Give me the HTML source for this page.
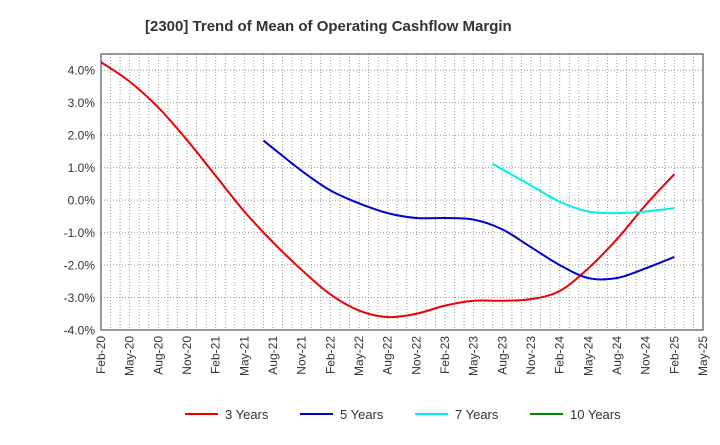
<!DOCTYPE html>
<html><head><meta charset="utf-8"><style>
body{margin:0;background:#fff;font-family:"Liberation Sans",sans-serif;}
</style></head><body>
<svg id="c" width="720" height="440" xmlns="http://www.w3.org/2000/svg">
<text x="145" y="31" font-size="15" font-weight="bold" fill="#333">[2300]  Trend of Mean of Operating Cashflow Margin</text>
<g id="grid"></g><g id="axes"></g><g id="series"></g><g id="legend"></g>
</svg>
<script>
const categories=["Feb-20","May-20","Aug-20","Nov-20","Feb-21","May-21","Aug-21","Nov-21","Feb-22","May-22","Aug-22","Nov-22","Feb-23","May-23","Aug-23","Nov-23","Feb-24","May-24","Aug-24","Nov-24","Feb-25","May-25"];
const yTicks=[4,3,2,1,0,-1,-2,-3,-4];
const yTickLabels=["4.0%","3.0%","2.0%","1.0%","0.0%","-1.0%","-2.0%","-3.0%","-4.0%"];
const s3=[4.25,3.65,2.85,1.85,0.75,-0.35,-1.3,-2.15,-2.9,-3.4,-3.6,-3.5,-3.25,-3.1,-3.1,-3.05,-2.8,-2.1,-1.2,-0.15,0.8];
const s5=[null,null,null,null,null,null,1.6,0.9,0.3,-0.1,-0.4,-0.55,-0.55,-0.6,-0.9,-1.45,-2.0,-2.4,-2.4,-2.1,-1.75];
const s7=[null,null,null,null,null,null,null,null,null,null,null,null,null,null,0.95,0.45,-0.05,-0.35,-0.4,-0.35,-0.25];
const s10=[];
const names=["3 Years","5 Years","7 Years","10 Years"];
const colors=["#e00","#00c","#0ee","#080"];
const L=101,R=703,T=54,B=330,yMin=-4,yMax=4.5;
const NS="http://www.w3.org/2000/svg";
const xq=i=>L+(R-L)*i/(categories.length-1);
const y=v=>B-(v-yMin)/(yMax-yMin)*(B-T);
function mk(tag,attrs,parent){const e=document.createElementNS(NS,tag);for(const k in attrs)e.setAttribute(k,attrs[k]);parent.appendChild(e);return e;}
const g=document.getElementById('grid'),ax=document.getElementById('axes'),sg=document.getElementById('series'),lg=document.getElementById('legend');
const months=(categories.length-1)*3;
for(let m=1;m<months;m++){const x=L+(R-L)*m/months;const ln=mk('line',{x1:x,x2:x,y1:T,y2:B,stroke:'#999','stroke-dasharray':'1,2','stroke-width':1},g);

}
yTicks.forEach((v,i)=>{const ln=mk('line',{x1:L,x2:R,y1:y(v),y2:y(v),stroke:'#999','stroke-dasharray':'1,2'},g);


const t=mk('text',{x:L-6,y:y(v)+4.5,'text-anchor':'end','font-size':12,fill:'#333'},ax);t.textContent=yTickLabels[i];

});
const fr=mk('rect',{x:L,y:T,width:R-L,height:B-T,fill:'none',stroke:'#333','stroke-width':1},ax);


categories.forEach((c,i)=>{const x=xq(i);const t=mk('text',{transform:`translate(${x+4},${B+6}) rotate(-90)`,'text-anchor':'end','font-size':12,fill:'#333'},ax);t.textContent=c;

});
function path(arr){const pts=[];arr.forEach((v,i)=>{if(v!=null)pts.push([xq(i),y(v)]);});if(pts.length<2)return '';
// the reference series begin about one month before their first quarter mark
const p0=pts[0],p1=pts[1];const f=-1/3;pts.unshift([p0[0]+(p1[0]-p0[0])*f,p0[1]+(p1[1]-p0[1])*f]);
if(arr[0]!=null)pts.shift();
let d=`M${pts[0][0]},${pts[0][1]}`;for(let i=0;i<pts.length-1;i++){const q0=pts[i-1]||pts[i],q1=pts[i],q2=pts[i+1],q3=pts[i+2]||q2;
d+=` C${q1[0]+(q2[0]-q0[0])/6},${q1[1]+(q2[1]-q0[1])/6} ${q2[0]-(q3[0]-q1[0])/6},${q2[1]-(q3[1]-q1[1])/6} ${q2[0]},${q2[1]}`;}return d;}
[s3,s5,s7,s10].forEach((s,k)=>{const d=path(s);if(!d)return;const p=mk('path',{d:d,fill:'none',stroke:colors[k],'stroke-width':2},sg);

});
const lx=[185,300,415,530];
names.forEach((n,k)=>{const e=mk('g',{},lg);


mk('line',{x1:lx[k],x2:lx[k]+33,y1:414,y2:414,stroke:colors[k],'stroke-width':2},e);
const t=mk('text',{x:lx[k]+40,y:419,'font-size':13,fill:'#333'},e);t.textContent=n;});
</script>
</body></html>
